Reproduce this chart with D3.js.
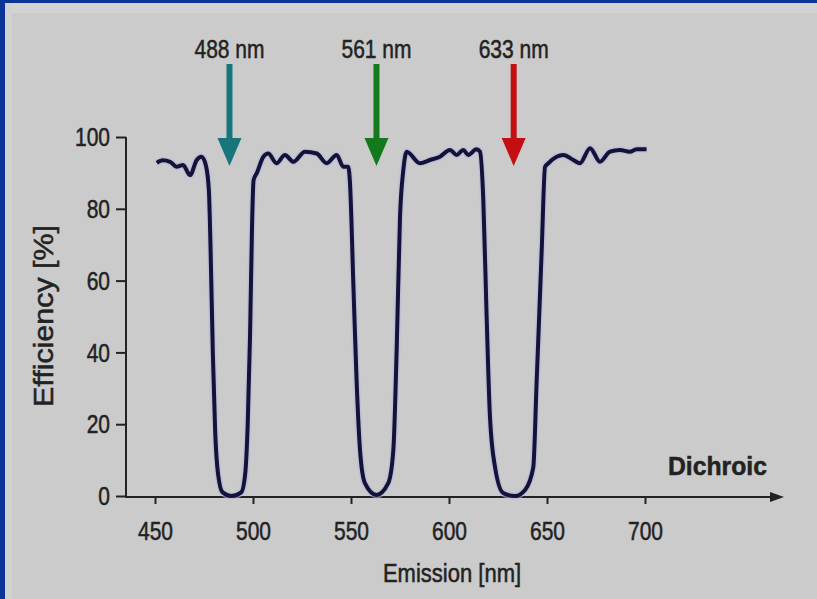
<!DOCTYPE html>
<html>
<head>
<meta charset="utf-8">
<script src="https://cdn.jsdelivr.net/npm/d3@7"></script>
<style>
  body { margin: 0; background: #cbcbcb; }
  svg { display: block; }
  text { font-family: "Liberation Sans", Arial, sans-serif; fill: #222; stroke: #222; stroke-width: 0.5px; }
</style>
</head>
<body>
<div id="chart-area"></div>
<script>
// emission wavelength (nm) and efficiency (%)
var wavelength = [450.9, 454, 457.7, 461, 464.3, 467.9, 471.3, 473.8, 476, 477.5, 478.3, 479.5, 480.7, 482.2, 484.5, 489, 494, 496, 497.3, 498.5, 499.5, 500.3, 502,
  505.3, 507.8, 512, 516.3, 520.6, 526.5, 532.5, 537.6, 542.7, 546.1, 548.6, 549.5, 551.2, 552.9, 554.6, 557.1, 563, 569, 571.6, 573.3, 575, 576.7,
  578.4, 585.2, 590.3, 595.4, 600.5, 603.9, 607.3, 609.8, 614, 615.8, 617.5, 619.2, 620.9, 623.5, 627.7, 633.7, 638.8, 643, 644.7, 647.3, 649, 650.7,
  654.9, 658.3, 663.4, 666.8, 672, 677, 682.1, 687.2, 692.3, 695.7, 700.8]
var efficiency = [92.8, 93.5, 93.1, 91.7, 92.2, 89.4, 93.6, 94.5, 92, 85, 70, 40, 18, 6, 1, 0, 1, 6, 20, 45, 75, 88, 90,
  94.5, 95.4, 92.7, 95, 93.1, 95.9, 95.4, 92.7, 95, 91.7, 91.7, 87, 59, 31.5, 12.8, 3.6, 0.3, 3.6, 12.8, 40.7, 77.7, 90.8,
  95.9, 92.7, 93.6, 94.5, 96.4, 95, 96.4, 95, 96.6, 95.9, 82.5, 50, 22, 8, 0.8, 0, 1.7, 8, 31.5, 68.5, 91.7, 92.7,
  94.5, 95, 93.6, 92.7, 96.9, 93.1, 95.9, 96.4, 95.9, 96.6, 96.6]

var xTicks = [450, 500, 550, 600, 650, 700]
var yTicks = [0, 20, 40, 60, 80, 100]

var laserLabels = ['488 nm', '561 nm', '633 nm']
var laserPos = [488, 563, 633]
var laserColors = ['#17757c', '#137a1c', '#c40f12']

var W = 817, H = 599
var squeeze = 0.84   // the original uses a condensed face

var svg = d3.select('#chart-area').append('svg')
    .attr('width', W)
    .attr('height', H)

// squash text horizontally, keeps it real text
function condense(sel, k) {
	sel.each(function() {
		var len = this.getComputedTextLength()
		d3.select(this).attr('textLength', len * k).attr('lengthAdjust', 'spacingAndGlyphs')
	})
}

// frame
svg.append('rect').attr('width', W).attr('height', H).attr('fill', '#cbcbcb')
svg.append('rect').attr('x', 0).attr('y', 3).attr('width', W).attr('height', 10).attr('fill', '#d3d3d3')
svg.append('rect').attr('x', 5).attr('y', 3).attr('width', 7).attr('height', H).attr('fill', '#d1d1d1')
svg.append('rect').attr('width', W).attr('height', 3).attr('fill', '#0a3596')
svg.append('rect').attr('width', 5).attr('height', H).attr('fill', '#0a3596')

var x = d3.scaleLinear().domain([450, 700]).range([155, 645])
var y = d3.scaleLinear().domain([0, 100]).range([496, 137])

var axisX = 126, axisY = 497

// y axis
var yAxisGroup = svg.append('g').attr('transform', `translate(${axisX}, 0)`)
    .call(d3.axisLeft(y).tickValues(yTicks).tickSize(10).tickSizeOuter(0).tickPadding(6))
yAxisGroup.select('.domain').remove()
yAxisGroup.selectAll('line').attr('stroke', '#222').attr('stroke-width', 2)
yAxisGroup.selectAll('text').attr('font-size', 25).attr('fill', '#222').attr('dy', '0.35em')
    .style('font-family', '"Liberation Sans", Arial, sans-serif')
    .call(condense, squeeze)

// x axis
var xAxisGroup = svg.append('g').attr('transform', `translate(0, ${axisY})`)
    .call(d3.axisBottom(x).tickValues(xTicks).tickSize(7).tickSizeOuter(0))
xAxisGroup.select('.domain').remove()
xAxisGroup.selectAll('line').attr('stroke', '#222').attr('stroke-width', 2)
xAxisGroup.selectAll('text').attr('font-size', 25).attr('fill', '#222').attr('y', 43).attr('dy', 0)
    .style('font-family', '"Liberation Sans", Arial, sans-serif')
    .call(condense, squeeze)

// axis lines, x with arrow
svg.append('line').attr('x1', axisX).attr('x2', axisX).attr('y1', y(100)).attr('y2', axisY + 1)
    .attr('stroke', '#222').attr('stroke-width', 2)
svg.append('line').attr('x1', axisX - 1).attr('x2', 772).attr('y1', axisY).attr('y2', axisY)
    .attr('stroke', '#222').attr('stroke-width', 2)
svg.append('path').attr('d', `M770,${axisY - 5}L784,${axisY}L770,${axisY + 5}Z`).attr('fill', '#222')

// curve
var pts = wavelength.map((w, i) => [w, efficiency[i]])
var line = d3.line().x(d => x(d[0])).y(d => y(d[1])).curve(d3.curveMonotoneX)
svg.append('path').datum(pts)
    .attr('d', line)
    .attr('fill', 'none')
    .attr('stroke', '#b8b8d8')
    .attr('stroke-width', 7)
    .attr('stroke-linejoin', 'round')
    .attr('opacity', 0.6)
svg.append('path').datum(pts)
    .attr('d', line)
    .attr('fill', 'none')
    .attr('stroke', '#12123a')
    .attr('stroke-width', 4)
    .attr('stroke-linejoin', 'round')

// laser arrows
var arrows = svg.selectAll('.laser').data(laserPos).enter().append('g').attr('class', 'laser')
arrows.append('rect')
    .attr('x', d => x(d) - 3).attr('y', 64).attr('width', 6).attr('height', 76)
    .attr('fill', (d, i) => laserColors[i])
arrows.append('path')
    .attr('d', d => `M${x(d) - 12},138L${x(d) + 12},138L${x(d)},166Z`)
    .attr('fill', (d, i) => laserColors[i])
arrows.append('text')
    .attr('x', d => x(d)).attr('y', 58)
    .attr('text-anchor', 'middle')
    .attr('font-size', 25)
    .text((d, i) => laserLabels[i])
    .call(condense, squeeze)

// labels
svg.append('text')
    .attr('x', 452).attr('y', 582)
    .attr('text-anchor', 'middle')
    .attr('font-size', 25)
    .text('Emission [nm]')
    .call(condense, 0.88)

svg.append('text')
    .attr('transform', 'translate(53, 316) rotate(-90)')
    .attr('text-anchor', 'middle')
    .attr('font-size', 27)
    .attr('textLength', 182)
    .attr('lengthAdjust', 'spacingAndGlyphs')
    .text('Efficiency [%]')

svg.append('text')
    .attr('x', 767).attr('y', 475)
    .attr('text-anchor', 'end')
    .attr('font-size', 25)
    .attr('font-weight', 'bold')
    .attr('textLength', 99)
    .attr('lengthAdjust', 'spacingAndGlyphs')
    .text('Dichroic')
</script>
</body>
</html>
